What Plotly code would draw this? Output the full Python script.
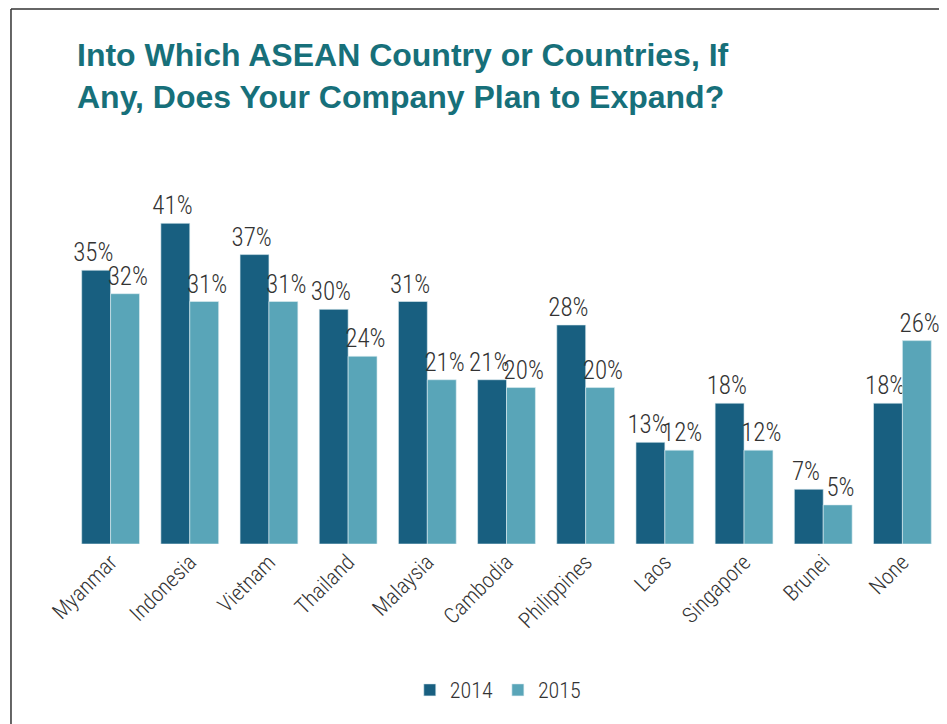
import plotly.graph_objects as go

countries = ["Myanmar", "Indonesia", "Vietnam", "Thailand", "Malaysia", "Cambodia",
             "Philippines", "Laos", "Singapore", "Brunei", "None"]
pct_2014 = [35, 41, 37, 30, 31, 21, 28, 13, 18, 7, 18]
pct_2015 = [32, 31, 31, 24, 21, 20, 20, 12, 12, 5, 26]

NARROW = "Roboto Condensed, Liberation Sans Narrow, sans-serif"
TITLE_FONT = "Liberation Sans, Arial, Helvetica, sans-serif"
dark = "#185f80"
light = "#59a5b8"
PAD = "\u00a0"  # nudges 2014 labels left and 2015 labels right, as in the original

fig = go.Figure()
for name, vals, col, fmt in [("2014", pct_2014, dark, "{}%" + PAD),
                             ("2015", pct_2015, light, PAD + "{}%")]:
    fig.add_trace(go.Bar(
        x=countries, y=vals, name=name,
        marker=dict(color=col, line=dict(color="#dfeef2", width=0.6)),
        text=[fmt.format(v) for v in vals],
        textposition="outside",
        constraintext="none",
        cliponaxis=False,
        textfont=dict(family=NARROW, size=25, color="#333333", weight=300),
    ))

# page body has an 8px margin, so the figure is laid out 8px up/left
# and sized so it does not overflow the window
fig.update_layout(
    barmode="group",
    bargap=0.27,
    bargroupgap=0,
    width=939, height=716,
    margin=dict(l=63, r=5, t=184, b=180),
    paper_bgcolor="white",
    plot_bgcolor="white",
    xaxis=dict(
        tickangle=-45,
        tickfont=dict(family=NARROW, size=22, color="#333333", weight=300),
        showline=False, ticks="",
    ),
    yaxis=dict(range=[0, 45], visible=False),
    legend=dict(
        orientation="h", x=0.49, xanchor="center", y=-0.415, yanchor="middle",
        font=dict(family=NARROW, size=22, color="#333333", weight=300),
    ),
    showlegend=True,
    annotations=[dict(
        text="Into Which ASEAN Country or Countries, If<br>Any, Does Your Company Plan to Expand?",
        font=dict(family=TITLE_FONT, size=32, color="#17707a", weight="bold"),
        xref="paper", yref="paper", x=0.0046, y=1.445,
        xanchor="left", yanchor="top", align="left", showarrow=False,
    )],
    shapes=[
        dict(type="line", xref="paper", yref="paper", x0=-0.0689, x1=-0.0689,
             y0=-0.55, y1=1.52, line=dict(color="#333333", width=1.5)),
        dict(type="line", xref="paper", yref="paper", x0=-0.0689, x1=1.02,
             y0=1.52, y1=1.52, line=dict(color="#333333", width=1.5)),
    ],
)

fig.write_html("out.html")
